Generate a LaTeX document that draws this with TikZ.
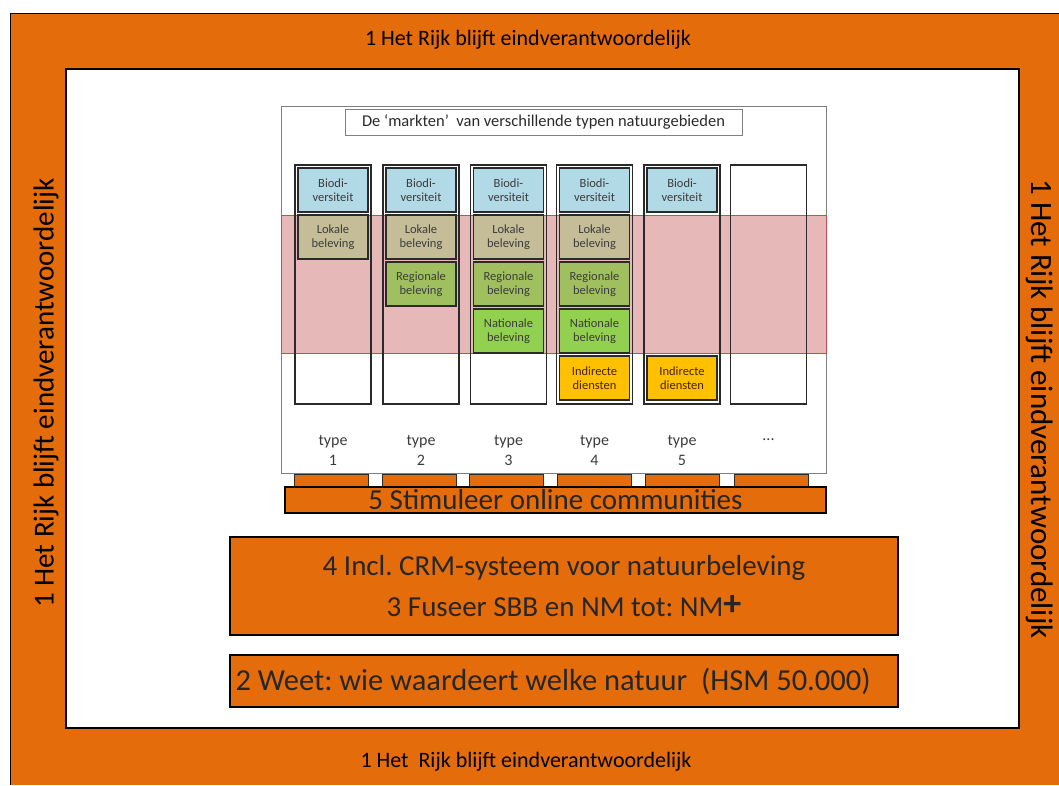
\documentclass[tikz,border=0pt]{standalone}
\usepackage{fontspec}
\setmainfont{Carlito}
\usepackage{tikz}
\usetikzlibrary{positioning}
\frenchspacing

\definecolor{frameorange}{HTML}{E46C0A}
\definecolor{colline}{HTML}{2A2A2A}
\definecolor{celltext}{HTML}{3C3C3C}
\definecolor{biocol}{HTML}{B2D9E6}
\definecolor{lokcol}{HTML}{C4BD97}
\definecolor{regcol}{HTML}{A0C060}
\definecolor{natcol}{HTML}{92D050}
\definecolor{indcol}{HTML}{FFC000}
\definecolor{bandfill}{HTML}{E6B9B8}
\definecolor{bandline}{HTML}{C0504D}

\begin{document}
\begin{tikzpicture}[x=1pt,y=-1pt,node distance=3pt,inner sep=0pt,outer sep=0pt]
  \tikzstyle{column}=[draw=colline,line width=1.3pt,minimum width=76pt,minimum height=239pt]
  \tikzstyle{cell}=[draw=colline,line width=1.5pt,minimum width=70pt,minimum height=44pt,
                    align=center,font=\fontsize{12.5}{14.5}\selectfont,text=celltext]
  \tikzstyle{tab}=[fill=frameorange,draw=colline,line width=0.8pt,minimum width=74pt,minimum height=13pt]
  \tikzstyle{bar}=[fill=frameorange,draw=black,line width=1.2pt,align=center,text=black!85]
  \tikzstyle{typelabel}=[align=center,font=\fontsize{16}{20}\selectfont,text=celltext]
  \tikzstyle{rimtext}=[text=black]

  \useasboundingbox (0,0) rectangle (1059,785);

  % orange frame round the whole slide
  \fill[frameorange] (10,13) rectangle (1059,785);
  \draw[line width=1pt] (10,785) -- (10,13) -- (1059,13);
  \draw[fill=white,line width=2pt] (66,69) rectangle (1019,728);

  \node[rimtext,font=\fontsize{22}{24}\selectfont] (rimtop) at (528,40) {1 Het Rijk blijft eindverantwoordelijk};
  \node[rimtext,font=\fontsize{22}{24}\selectfont] (rimbottom) at (526,762) {1 Het\ \ Rijk blijft eindverantwoordelijk};
  \node[rimtext,font=\fontsize{29}{31}\selectfont,rotate=90] (rimleft) at (46,393) {1 Het Rijk blijft eindverantwoordelijk};
  \node[rimtext,font=\fontsize{31}{33}\selectfont,rotate=-90] (rimright) at (1040,409) {1 Het Rijk blijft eindverantwoordelijk};

  % the markets panel
  \node[draw=gray,fill=white,line width=0.8pt,minimum width=545pt,minimum height=367pt] (panel) at (553.5,289.5) {};
  \node[draw=gray,line width=0.8pt,minimum width=397pt,minimum height=26pt,
        font=\fontsize{16.5}{18}\selectfont,text=colline] (title) at (543.5,122)
        {De ‘markten’\ \ van verschillende typen natuurgebieden};
  \fill[bandfill] (281,215) rectangle (826,353);
  \draw[bandline,line width=0.8pt] (281,215) rectangle (826,353);

  \node[column] (c1) at (333,284.5) {};
  \node[column] (c2) at (421,284.5) {};
  \node[column] (c3) at (508.5,284.5) {};
  \node[column] (c4) at (594.5,284.5) {};
  \node[column] (c5) at (682,284.5) {};
  \node[column] (c6) at (768.5,284.5) {};

  \node[cell,fill=biocol] (b1) at (333,190) {Biodi-\\versiteit};
  \node[cell,fill=lokcol] (l1) [below=of b1] {Lokale\\beleving};

  \node[cell,fill=biocol] (b2) at (421,190) {Biodi-\\versiteit};
  \node[cell,fill=lokcol] (l2) [below=of b2] {Lokale\\beleving};
  \node[cell,fill=regcol] (r2) [below=of l2] {Regionale\\beleving};

  \node[cell,fill=biocol] (b3) at (508.5,190) {Biodi-\\versiteit};
  \node[cell,fill=lokcol] (l3) [below=of b3] {Lokale\\beleving};
  \node[cell,fill=regcol] (r3) [below=of l3] {Regionale\\beleving};
  \node[cell,fill=natcol] (n3) [below=of r3] {Nationale\\beleving};

  \node[cell,fill=biocol] (b4) at (594.5,190) {Biodi-\\versiteit};
  \node[cell,fill=lokcol] (l4) [below=of b4] {Lokale\\beleving};
  \node[cell,fill=regcol] (r4) [below=of l4] {Regionale\\beleving};
  \node[cell,fill=natcol] (n4) [below=of r4] {Nationale\\beleving};
  \node[cell,fill=indcol,text=black!55!orange!60!black] (i4) [below=of n4] {Indirecte\\diensten};

  \node[cell,fill=biocol] (b5) at (682,190) {Biodi-\\versiteit};
  \node[cell,fill=indcol,text=black!55!orange!60!black] (i5) at (682,378) {Indirecte\\diensten};

  \node[typelabel] (t1) at (333,450) {type\\1};
  \node[typelabel] (t2) at (421,450) {type\\2};
  \node[typelabel] (t3) at (508.5,450) {type\\3};
  \node[typelabel] (t4) at (594.5,450) {type\\4};
  \node[typelabel] (t5) at (682,450) {type\\5};
  \node[typelabel] (t6) at (768.5,440) {...};

  % orange blocks under the panel
  \node[tab] (tab1) at (331,480.5) {};
  \node[tab] (tab2) at (419,480.5) {};
  \node[tab] (tab3) at (506.5,480.5) {};
  \node[tab] (tab4) at (594.5,480.5) {};
  \node[tab] (tab5) at (682.5,480.5) {};
  \node[tab] (tab6) at (771,480.5) {};

  \node[bar,minimum width=541pt,minimum height=26pt,font=\fontsize{29}{30}\selectfont] (online) at (555.5,500)
       {5 Stimuleer online communities};
  \node[bar,minimum width=668pt,minimum height=98pt,font=\fontsize{29}{41}\selectfont] (crm) at (564,586)
       {4 Incl. CRM-systeem voor natuurbeleving\\3 Fuseer SBB en NM tot: NM\raisebox{1pt}{\fontsize{36}{36}\selectfont\bfseries +}};
  \node[bar,minimum width=668pt,minimum height=52pt,font=\fontsize{30.5}{31}\selectfont] (weet) at (564,681)
       {2 Weet: wie waardeert welke natuur\ \ (HSM 50.000)\hspace*{22pt}};
\end{tikzpicture}
\end{document}
